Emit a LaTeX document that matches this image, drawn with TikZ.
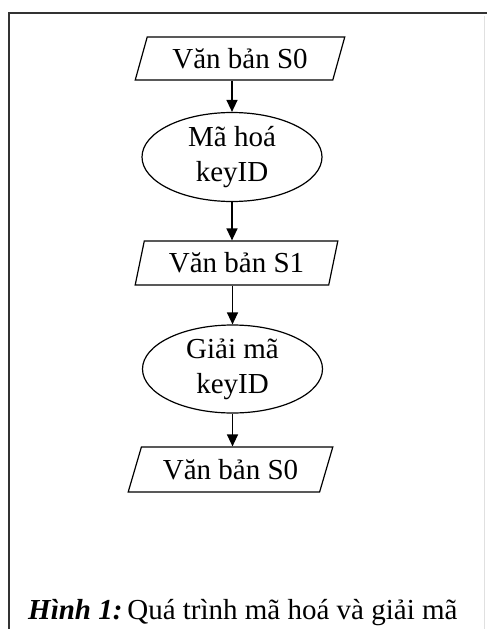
\documentclass[tikz,border=0pt]{standalone}
\usepackage{fontspec}
\setmainfont{Liberation Serif}
\usetikzlibrary{shapes.geometric,arrows.meta}
\begin{document}
\begin{tikzpicture}[x=1pt,y=-1pt,
  lbl/.style={font=\fontsize{29}{35}\selectfont, inner sep=0pt, align=center},
  para/.style={lbl, draw=black, line width=1.2pt, shape=trapezium, trapezium stretches=true,
    trapezium left angle=#1, trapezium right angle=180-#1},
  oval/.style={lbl, draw=black, line width=1.2pt, shape=ellipse, minimum width=180pt, minimum height=89pt},
  arr/.style={draw=black, line width=1.4pt, -{Triangle[length=12pt,width=11pt]}},
  frame/.style={draw=black!80, line width=2pt}]
\useasboundingbox (0,0) rectangle (487,629);
\draw[frame] (9,629) -- (9,13) -- (487,13);
\draw[draw=black!12, line width=1pt] (484,16) -- (484,629);

\node[para=67, minimum width=210pt, minimum height=43pt] (p1) at (240,58.5) {Văn bản S0};
\node[oval] (e1) at (232,157) {Mã hoá\\keyID};
\node[para=72, minimum width=203pt, minimum height=44pt] (p2) at (236.5,263) {Văn bản S1};
\node[oval, minimum height=88pt] (e2) at (232.5,369) {Giải mã\\keyID};
\node[para=64, minimum width=205pt, minimum height=45pt] (p3) at (230.5,469.5) {Văn bản S0};

\draw[arr] (p1.south -| e1.north) -- (e1.north);
\draw[arr] (e1.south) -- (e1.south |- p2.north);
\draw[arr] (p2.south -| e2.north) -- (e2.north);
\draw[arr] (e2.south) -- (e2.south |- p3.north);

\node[lbl, anchor=base west] (cap) at (28,619) {\textbf{\textit{Hình 1:}}\,Quá trình mã hoá và giải mã};
\end{tikzpicture}
\end{document}
